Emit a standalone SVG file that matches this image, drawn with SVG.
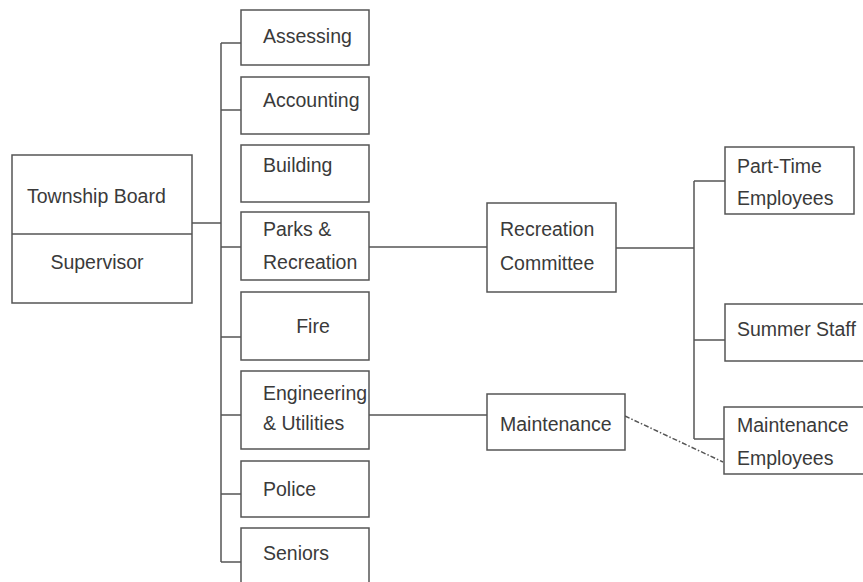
<svg xmlns="http://www.w3.org/2000/svg" width="863" height="582" viewBox="0 0 863 582">
<style>
.box{fill:#fff;stroke:#555;stroke-width:1.5}
.t{font-family:"Liberation Sans",Arial,sans-serif;font-size:19.5px;fill:#3a3a3a}
.c{fill:none;stroke:#555;stroke-width:1.5}
.d{fill:none;stroke:#555;stroke-width:1.5;stroke-dasharray:5 2 1.5 2}
</style>
<rect width="863" height="582" fill="#fff"/>
<g id="connectors">
<path class="c" d="M192 223H221M221 43V562M221 43H241M221 110H241M221 247H241M221 337H241M221 415H241M221 494H241M221 562H241"/>
<path class="c" d="M369 247H487M616 248H694M694 181V439M694 181H725M694 340H725M694 439H724"/>
<path class="c" d="M369 415H487"/>
<path class="d" d="M625 416L723 462"/>
</g>
<g id="township-board">
<rect class="box" x="12" y="155" width="180" height="148"/>
<line class="c" x1="12" y1="234" x2="192" y2="234"/>
<text class="t" x="27" y="203">Township Board</text>
<text class="t" x="97" y="269" text-anchor="middle">Supervisor</text>
</g>
<g id="assessing"><rect class="box" x="241" y="10" width="128" height="55"/><text class="t" x="263" y="43">Assessing</text></g>
<g id="accounting"><rect class="box" x="241" y="77" width="128" height="57"/><text class="t" x="263" y="107">Accounting</text></g>
<g id="building"><rect class="box" x="241" y="145" width="128" height="57"/><text class="t" x="263" y="172">Building</text></g>
<g id="parks"><rect class="box" x="241" y="212" width="128" height="68"/><text class="t" x="263" y="236">Parks &amp;</text><text class="t" x="263" y="269">Recreation</text></g>
<g id="fire"><rect class="box" x="241" y="292" width="128" height="68"/><text class="t" x="313" y="333" text-anchor="middle">Fire</text></g>
<g id="engineering"><rect class="box" x="241" y="371" width="128" height="78"/><text class="t" x="263" y="400">Engineering</text><text class="t" x="263" y="430">&amp; Utilities</text></g>
<g id="police"><rect class="box" x="241" y="461" width="128" height="56"/><text class="t" x="263" y="496">Police</text></g>
<g id="seniors"><rect class="box" x="241" y="528" width="128" height="70"/><text class="t" x="263" y="560">Seniors</text></g>
<g id="recreation-committee"><rect class="box" x="487" y="203" width="129" height="89"/><text class="t" x="500" y="236">Recreation</text><text class="t" x="500" y="270">Committee</text></g>
<g id="maintenance"><rect class="box" x="487" y="394" width="138" height="56"/><text class="t" x="500" y="431">Maintenance</text></g>
<g id="part-time"><rect class="box" x="725" y="147" width="129" height="67"/><text class="t" x="737" y="173">Part-Time</text><text class="t" x="737" y="205">Employees</text></g>
<g id="summer-staff"><rect class="box" x="725" y="304" width="150" height="57"/><text class="t" x="737" y="336">Summer Staff</text></g>
<g id="maintenance-employees"><rect class="box" x="724" y="407" width="150" height="67"/><text class="t" x="737" y="432">Maintenance</text><text class="t" x="737" y="465">Employees</text></g>
</svg>
